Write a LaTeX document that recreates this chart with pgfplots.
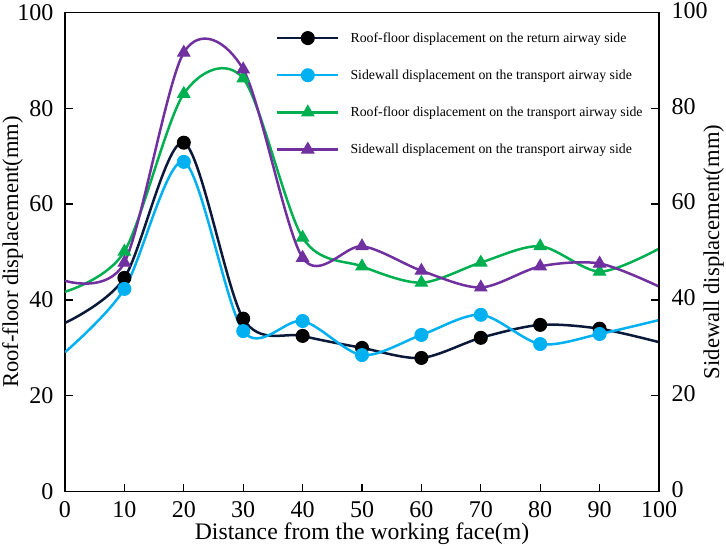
\documentclass[border=0pt]{standalone}
\usepackage{pgfplots}
\pgfplotsset{compat=1.18}
\usepackage{fontspec}
\setmainfont{Liberation Serif}
\definecolor{cNavy}{RGB}{10,24,58}
\definecolor{cCyan}{RGB}{0,176,240}
\definecolor{cGreen}{RGB}{0,176,80}
\definecolor{cPurple}{RGB}{112,48,160}
\begin{document}
\begin{tikzpicture}
\pgfplotsset{
  base/.style={
    scale only axis, width=594pt, height=479.4pt,
    xmin=0, xmax=100, ymin=0, ymax=100,
    /pgf/number format/assume math mode=true,
    tick label style={font=\fontsize{24}{26}\selectfont},
    major tick length=8pt,
    tick align=inside,
    axis line style={line width=1.3pt},
    every tick/.style={line width=1.3pt, black},
  }
}
\begin{axis}[base, name=ax,
  xtick={0,10,...,100}, ytick={0,20,...,100},
  xtick pos=bottom, ytick pos=left,
  xticklabel style={yshift=-6pt},
  yticklabel style={xshift=-8pt},
  xlabel={Distance from the working face(m)},
  ylabel={Roof-floor displacement(mm)},
  every axis y label/.style={at={(axis description cs:-0.0884,0.5)}, rotate=90, anchor=center, font=\fontsize{22.6}{25}\selectfont},
  every axis x label/.style={at={(axis description cs:0.5,-0.088)}, anchor=center, font=\fontsize{23.7}{26}\selectfont},
  legend style={at={(rel axis cs:0.355,0.9625)}, anchor=north west, draw=none, fill=none,
    font=\fontsize{13.8}{16}\selectfont, row sep=22pt, column sep=9pt, inner sep=0pt,
    cells={anchor=west}},
  legend cell align=left,
  legend image code/.code={\draw[#1, mark indices={2}] plot coordinates {(0pt,0pt) (30.5pt,0pt) (61pt,0pt)};},
]
\addplot[cNavy, line width=2.5pt, smooth, mark=*, mark size=6.5pt, mark options={fill=black, draw=black, line width=1pt}, mark indices={2,3,4,5,6,7,8,9,10}]
 coordinates {(0,35.2) (10,44.6) (20,72.8) (30,36.1) (40,32.5) (50,30.0) (60,27.9) (70,32.1) (80,34.8) (90,34.0) (100,31.2)};
\addlegendentry{Roof-floor displacement on the return airway side}
\addplot[cCyan, line width=2.5pt, smooth, mark=*, mark size=6.5pt, mark options={fill=cCyan, draw=cCyan, line width=1pt}, mark indices={2,3,4,5,6,7,8,9,10}]
 coordinates {(0,29.1) (10,42.3) (20,68.8) (30,33.5) (40,35.6) (50,28.5) (60,32.7) (70,36.9) (80,30.8) (90,32.9) (100,35.8)};
\addlegendentry{Sidewall displacement on the transport airway side}
\addplot[cGreen, line width=2.5pt, smooth, mark=triangle*, mark size=7pt, mark options={fill=cGreen, draw=cGreen, line width=1pt}, mark indices={2,3,4,5,6,7,8,9,10}]
 coordinates {(0,41.7) (10,50.1) (20,83.0) (30,86.2) (40,53.0) (50,47.0) (60,43.6) (70,47.8) (80,51.2) (90,45.9) (100,50.7)};
\addlegendentry{Roof-floor displacement on the transport airway side}
\addplot[cPurple, line width=2.5pt, smooth, mark=triangle*, mark size=7pt, mark options={fill=cPurple, draw=cPurple, line width=1pt}, mark indices={2,3,4,5,6,7,8,9,10}]
 coordinates {(0,44.0) (10,47.8) (20,91.6) (30,88.1) (40,48.8) (50,51.2) (60,46.1) (70,42.6) (80,47.0) (90,47.6) (100,42.8)};
\addlegendentry{Sidewall displacement on the transport airway side}
\end{axis}
\begin{axis}[base,
  axis x line=none, axis y line*=right,
  ytick={0,20,...,100},
  yticklabel style={xshift=9pt, yshift=2pt},
  ylabel={Sidewall displacement(mm)},
  every axis y label/.style={at={(axis description cs:1.092,0.5)}, rotate=90, anchor=center, font=\fontsize{22.6}{25}\selectfont},
]
\end{axis}
\path (ax.south west) ++(-65pt,-57.3pt) coordinate (bbA);
\path (ax.north east) ++(67pt,12.3pt) coordinate (bbB);
\pgfresetboundingbox
\useasboundingbox (bbA) rectangle (bbB);
\end{tikzpicture}
\end{document}
